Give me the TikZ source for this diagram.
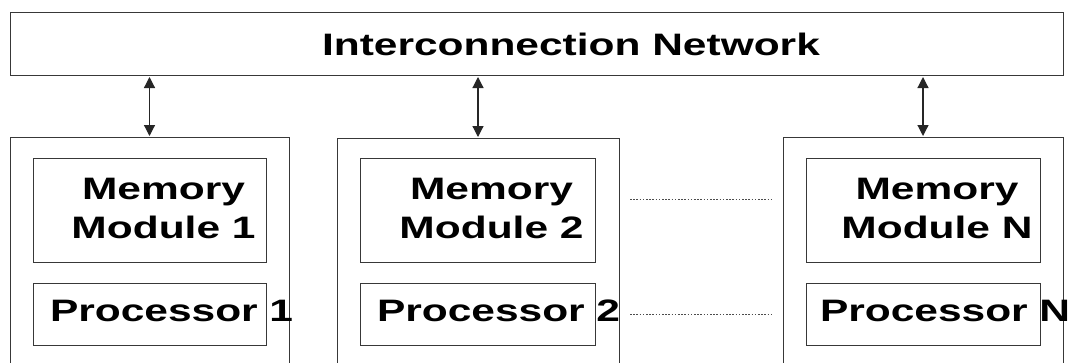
\documentclass[tikz,border=0pt]{standalone}
\usepackage{fontspec}
\setmainfont{Liberation Sans}[FakeStretch=1.37]
\usetikzlibrary{arrows.meta}
\tikzset{
  frame/.style={draw=black!78, line width=1pt, inner sep=0pt, outer sep=0pt, fill=none},
  lbl/.style={inner sep=0pt, outer sep=0pt, font=\fontsize{31}{39}\selectfont\bfseries, text=black},
  link/.style={draw=black!85, line width=1.2pt, {Triangle[width=11pt,length=11pt]}-{Triangle[width=11pt,length=11pt]}},
  etc/.style={draw=black!70, line width=0.8pt, dash pattern=on 1.6pt off 1.6pt}
}
\begin{document}
\begin{tikzpicture}[x=1pt,y=-1pt]
  \useasboundingbox (0,0) rectangle (1077,362);
  \clip (0,0) rectangle (1077,362);
  \fill[white] (0,0) rectangle (1077,362);

  % interconnection network
  \node[frame, minimum width=1053pt, minimum height=63pt] (net) at (536.5,43.5) {};
  \node[lbl, anchor=base west] (netlbl) at (322,55) {Interconnection Network};

  % processing elements (open at the bottom edge)
  \node[frame, minimum width=279pt, minimum height=263pt] (pe1) at (149.5,268.5) {};
  \node[frame, minimum width=282pt, minimum height=263pt] (pe2) at (478,269.5) {};
  \node[frame, minimum width=280pt, minimum height=263pt] (peN) at (923,268.5) {};

  % memory modules
  \node[frame, minimum width=233pt, minimum height=104pt] (mem1) at (149.5,210) {};
  \node[frame, minimum width=235pt, minimum height=104pt] (mem2) at (477.5,210) {};
  \node[frame, minimum width=234pt, minimum height=104pt] (memN) at (923,210) {};

  % processors
  \node[frame, minimum width=233pt, minimum height=62pt] (cpu1) at (149.5,314) {};
  \node[frame, minimum width=235pt, minimum height=62pt] (cpu2) at (477.5,314) {};
  \node[frame, minimum width=234pt, minimum height=62pt] (cpuN) at (923,314) {};

  % labels (base anchor sits on the last line)
  \node[lbl, anchor=base, align=center] (mem1lbl) at (163.5,238) {Memory\\Module 1};
  \node[lbl, anchor=base, align=center] (mem2lbl) at (491.5,238) {Memory\\Module 2};
  \node[lbl, anchor=base, align=center] (memNlbl) at (937,238) {Memory\\Module N};
  \node[lbl, anchor=base west] (cpu1lbl) at (50,321) {Processor 1};
  \node[lbl, anchor=base west] (cpu2lbl) at (377,321) {Processor 2};
  \node[lbl, anchor=base west] (cpuNlbl) at (820,321) {Processor N};

  % links to the network
  \draw[link] ([yshift=-2pt]net.south -| pe1.north) -- ([yshift=1pt]pe1.north);
  \draw[link] ([yshift=-2pt]net.south -| pe2.north) -- ([yshift=1pt]pe2.north);
  \draw[link] ([yshift=-2pt]net.south -| peN.north) -- ([yshift=1pt]peN.north);

  % elided elements
  \draw[etc, shorten <=35pt, shorten >=34pt] ([yshift=11pt]mem2.east) -- ([yshift=11pt]memN.west);
  \draw[etc, shorten <=35pt, shorten >=34pt] (cpu2.east) -- (cpuN.west);
\end{tikzpicture}
\end{document}
